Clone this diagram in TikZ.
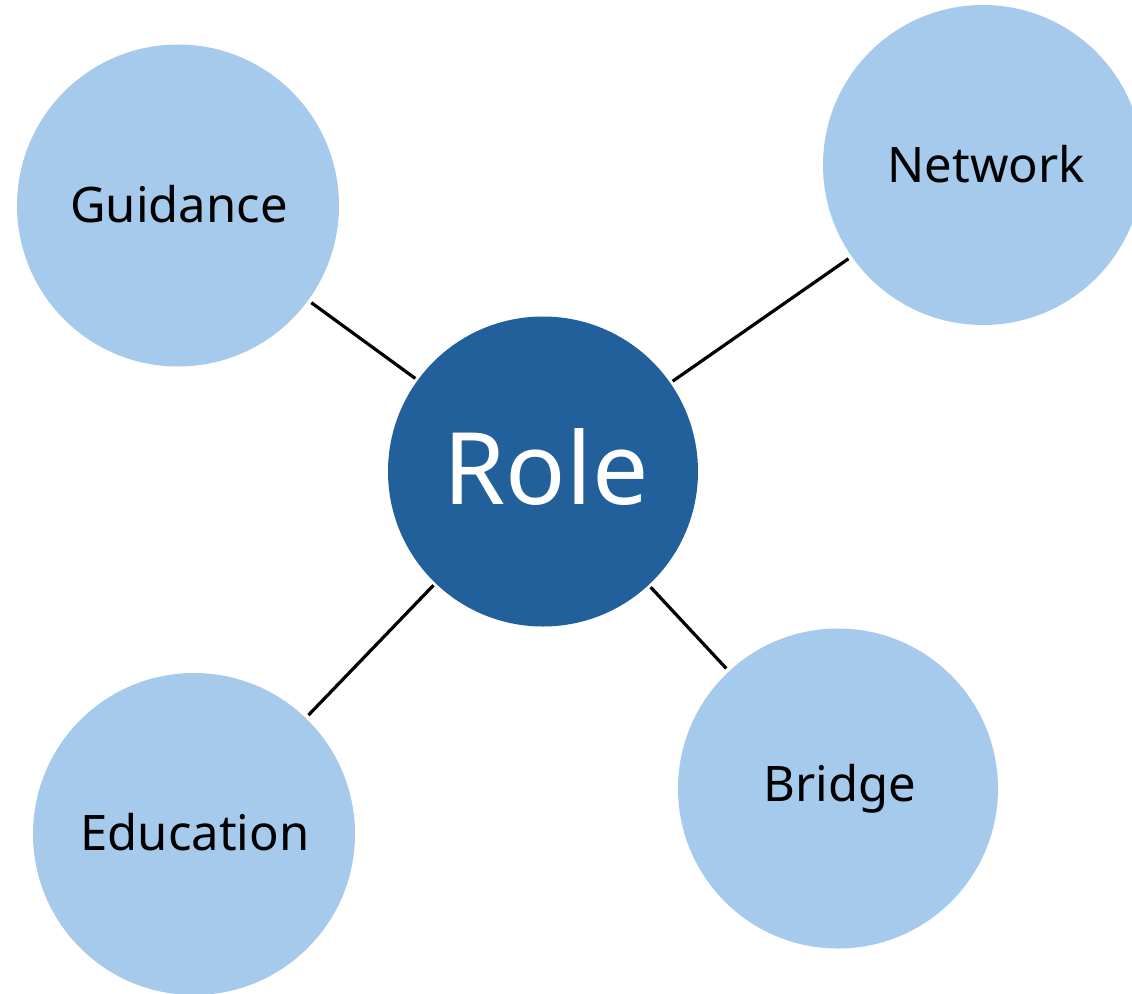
\documentclass[tikz,border=0pt]{standalone}
\usepackage{fontspec}
\setmainfont{Noto Sans}
\definecolor{lightblue}{HTML}{A6CAEC}
\definecolor{darkblue}{HTML}{21609B}
\begin{document}
\begin{tikzpicture}[x=1pt,y=-1pt,
  leaf/.style={circle,fill=lightblue,draw=none,inner sep=0pt,outer sep=0pt,minimum size=#1,font=\fontsize{49}{56}\selectfont,text=black},
  hub/.style={circle,fill=darkblue,draw=none,inner sep=0pt,outer sep=0pt,minimum size=310pt,font=\fontsize{100}{110}\selectfont,text=white},
  lbl/.style={font=\fontsize{49}{56}\selectfont,text=black},
  link/.style={draw=black,line width=3.2pt,shorten <=4pt,shorten >=3pt}]
\useasboundingbox (0,0) rectangle (1132,993);
\clip (0,0) rectangle (1132,993);
\node[leaf=322pt] (guid) at (178,205.5) {};
\node[leaf=320pt] (netw) at (983,165) {};
\node[leaf=322pt] (educ) at (194,834) {};
\node[leaf=320pt] (brid) at (838,788.5) {};
\node[hub] (role) at (543,471.5) {};
\node[lbl] (tguid) at (179,204) {Guidance};
\node[lbl] (tnetw) at (986,164) {Network};
\node[lbl] (teduc) at (195,832) {Education};
\node[lbl] (tbrid) at (840,789) {Bridge};
\node[font=\fontsize{100}{110}\selectfont,text=white] (trole) at (546,467) {Role};
\draw[link] (guid) -- (role);
\draw[link] (netw) -- (role);
\draw[link] (educ) -- (role);
\draw[link] (brid) -- (role);
\end{tikzpicture}
\end{document}
